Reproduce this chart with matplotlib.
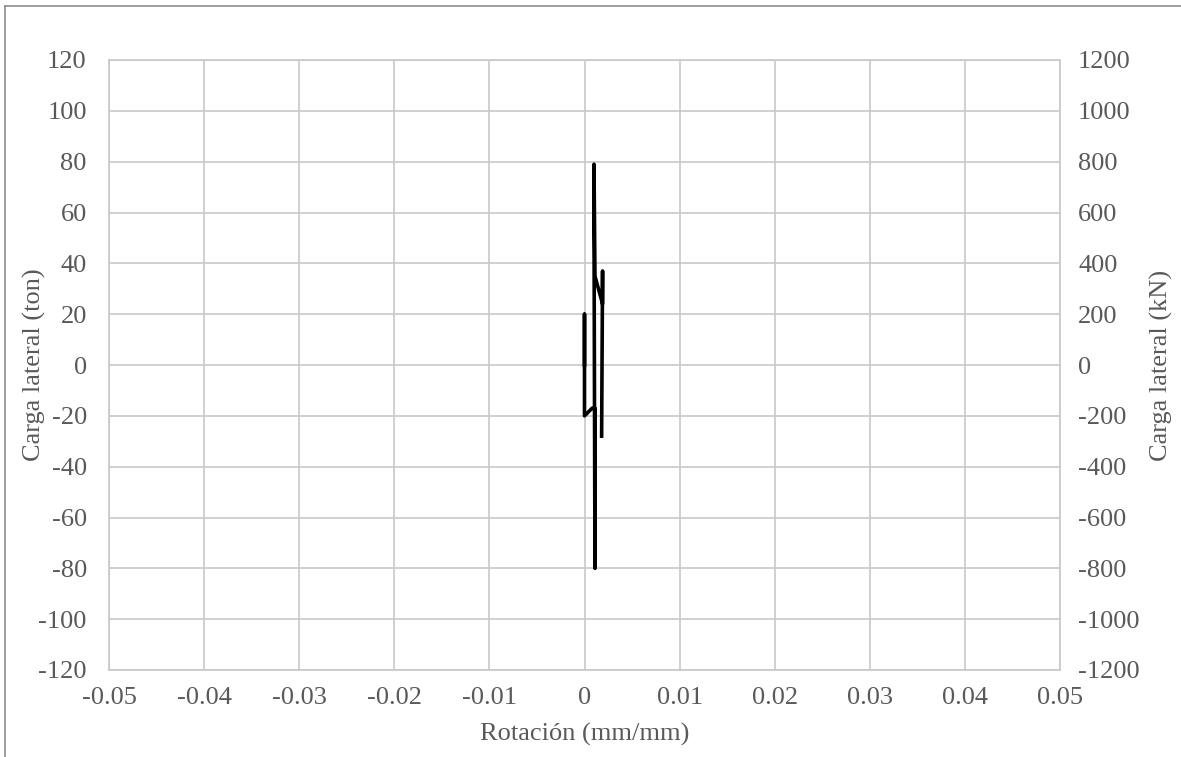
import matplotlib.pyplot as plt
from matplotlib.lines import Line2D

# hysteresis trace (rotation, lateral load in ton)
rotacion = [0.0000, 0.0000, 0.0000, 0.0008, 0.0011, 0.0011, 0.0010, 0.0010,
            0.0011, 0.0019, 0.0019, 0.0018]
carga_ton = [0, 20, -20, -17, -17, -80, 55, 79,
             35, 24, 37, -28]

x_ticks = [-0.05, -0.04, -0.03, -0.02, -0.01, 0, 0.01, 0.02, 0.03, 0.04, 0.05]
x_labels = ['-0.05', '-0.04', '-0.03', '-0.02', '-0.01', '0', '0.01', '0.02', '0.03', '0.04', '0.05']
y_ticks = list(range(-120, 121, 20))
y2_ticks = list(range(-1200, 1201, 200))

txt = '#595959'
grid_c = '#c8c8c8'
plt.rcParams['font.family'] = ['Liberation Serif', 'DejaVu Serif']
plt.rcParams['axes.unicode_minus'] = False

fig = plt.figure(figsize=(11.81, 7.57), dpi=100)
ax = fig.add_axes([109 / 1181, 1 - 670 / 757, 951 / 1181, 610 / 757])

ax.plot(rotacion, carga_ton, color='black', linewidth=2.6)
ax.set_xlim(-0.05, 0.05)
ax.set_ylim(-120, 120)
ax.set_xticks(x_ticks)
ax.set_xticklabels(x_labels)
ax.set_yticks(y_ticks)
ax.grid(True, color=grid_c, linewidth=1.2)
ax.tick_params(length=0, labelsize=19, colors=txt)
ax.tick_params(axis='y', pad=16)
ax.tick_params(axis='x', pad=12)
for s in ax.spines.values():
    s.set_color(grid_c)
    s.set_linewidth(1.2)
ax.set_xlabel('Rotación (mm/mm)', fontsize=19, color=txt, labelpad=10)
ax.set_ylabel('Carga lateral (ton)', fontsize=19, color=txt)
ax.yaxis.set_label_coords(-0.066, 0.5)

ax2 = ax.twinx()
ax2.set_ylim(-1200, 1200)
ax2.set_yticks(y2_ticks)
ax2.tick_params(length=0, labelsize=19, colors=txt, pad=13)
for s in ax2.spines.values():
    s.set_visible(False)
ax2.set_ylabel('Carga lateral (kN)', fontsize=19, color=txt)
ax2.yaxis.set_label_coords(1.095, 0.5)

# outer chart border (top and left edges visible)
fig.add_artist(Line2D([5 / 1181, 5 / 1181], [0, 1 - 6 / 757], color='#8c8c8c', linewidth=1.2))
fig.add_artist(Line2D([5 / 1181, 1], [1 - 6 / 757, 1 - 6 / 757], color='#8c8c8c', linewidth=1.2))

fig.savefig('out.png', dpi=100)
